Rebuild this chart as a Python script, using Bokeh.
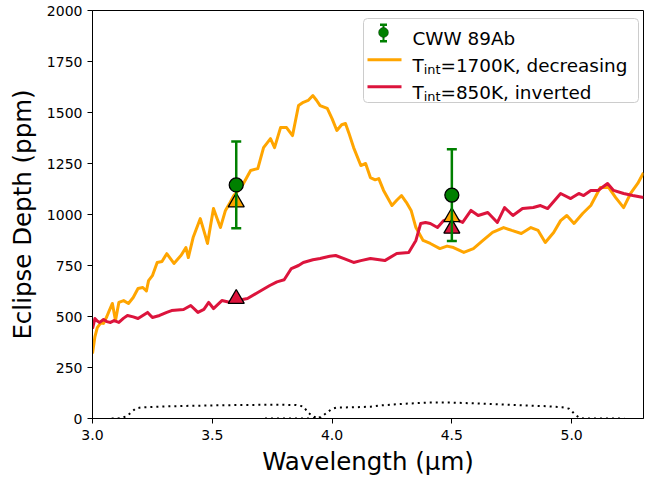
import numpy as np
from bokeh.plotting import figure
from bokeh.models import Range1d, FixedTicker, NumeralTickFormatter, BoxAnnotation, Label
from bokeh.embed import file_html
from bokeh.resources import INLINE

# Model emission spectrum, T_int = 1700 K, decreasing T-P profile
wav_1700 = [3.000, 3.010, 3.020, 3.035, 3.046, 3.060, 3.067, 3.083, 3.096, 3.110,
            3.130, 3.150, 3.170, 3.190, 3.210, 3.225, 3.234, 3.250, 3.270, 3.290,
            3.310, 3.340, 3.370, 3.390, 3.400, 3.420, 3.450, 3.470, 3.480, 3.505,
            3.520, 3.534, 3.555, 3.575, 3.590, 3.610, 3.630, 3.660, 3.690, 3.714,
            3.743, 3.760, 3.785, 3.810, 3.835, 3.860, 3.880, 3.900, 3.920, 3.935,
            3.950, 3.980, 4.000, 4.020, 4.040, 4.056, 4.070, 4.090, 4.120, 4.140,
            4.160, 4.180, 4.195, 4.215, 4.250, 4.270, 4.290, 4.310, 4.330, 4.350,
            4.380, 4.410, 4.450, 4.480, 4.507, 4.550, 4.590, 4.630, 4.670, 4.716,
            4.750, 4.790, 4.830, 4.860, 4.890, 4.925, 4.954, 4.980, 5.010, 5.046,
            5.080, 5.120, 5.155, 5.184, 5.217, 5.246, 5.276, 5.300]
depth_1700 = [318, 400, 446, 470, 466, 500, 520, 564, 480, 569,
              578, 564, 593, 637, 642, 625, 676, 700, 765, 770,
              808, 760, 800, 838, 789, 887, 980, 900, 858, 1029,
              980, 936, 1020, 1060, 1093, 1120, 1152, 1216, 1225, 1328,
              1372, 1328, 1426, 1426, 1387, 1534, 1550, 1559, 1583, 1560,
              1534, 1520, 1470, 1412, 1440, 1446, 1400, 1328, 1240, 1250,
              1181, 1170, 1176, 1118, 1044, 1070, 1093, 1060, 1020, 936,
              873, 858, 833, 845, 838, 814, 833, 873, 912, 936,
              922, 907, 936, 922, 863, 912, 970, 995, 956, 1005,
              1044, 1132, 1132, 1083, 1034, 1103, 1152, 1205]

# Model emission spectrum, T_int = 850 K, inverted T-P profile
wav_850 = [3.000, 3.010, 3.020, 3.030, 3.046, 3.060, 3.075, 3.090, 3.110, 3.130,
           3.146, 3.170, 3.190, 3.210, 3.230, 3.250, 3.280, 3.310, 3.330, 3.380,
           3.410, 3.440, 3.465, 3.485, 3.505, 3.540, 3.576, 3.605, 3.647, 3.690,
           3.740, 3.770, 3.800, 3.830, 3.860, 3.880, 3.920, 3.950, 3.990, 4.015,
           4.050, 4.090, 4.120, 4.160, 4.220, 4.270, 4.320, 4.350, 4.370, 4.390,
           4.410, 4.440, 4.466, 4.500, 4.545, 4.580, 4.610, 4.650, 4.690, 4.720,
           4.755, 4.795, 4.840, 4.870, 4.900, 4.954, 4.996, 5.030, 5.050, 5.080,
           5.110, 5.150, 5.175, 5.217, 5.255, 5.300]
depth_850 = [441, 490, 478, 471, 485, 475, 471, 480, 471, 492,
             505, 498, 490, 505, 520, 495, 505, 520, 529, 534,
             554, 520, 535, 569, 539, 578, 569, 578, 588, 618,
             652, 670, 680, 735, 750, 765, 778, 784, 795, 799,
             784, 765, 774, 784, 774, 809, 814, 873, 956, 961,
             956, 936, 970, 985, 961, 1020, 995, 1010, 961, 1034,
             995, 1029, 1034, 1044, 1029, 1103, 1078, 1103, 1093, 1118,
             1118, 1152, 1118, 1103, 1093, 1083]

# Measured eclipse depths (IRAC 3.6 and 4.5 micron)
obs_wav = [3.6, 4.5]
obs_depth = [1145, 1095]
obs_err = [213, 225]

# Band-integrated model depths
band_1700 = [1060, 988]
band_850 = [587, 931]

# Scaled bandpass response curves
ch1_wav = [3.08, 3.10, 3.12, 3.14, 3.16, 3.18, 3.20, 3.30, 3.40, 3.50,
           3.60, 3.70, 3.80, 3.85, 3.88, 3.90, 3.92, 3.94, 3.96]
ch1_resp = [0, 0, 2, 10, 28, 49, 54, 59, 62, 64,
            66, 67, 67, 66, 59, 29, 10, 2, 0]
ch2_wav = [3.72, 3.80, 3.90, 3.94, 3.96, 3.98, 4.00, 4.02, 4.10, 4.16,
           4.20, 4.30, 4.40, 4.50, 4.60, 4.70, 4.80, 4.90, 4.96, 4.99,
           5.01, 5.03, 5.05, 5.22]
ch2_resp = [0, 0, 0, 2, 12, 30, 48, 54, 55, 58,
            64, 72, 78, 78, 74, 69, 64, 60, 55, 48,
            25, 5, 0, 0]

x_ticks = [3.0, 3.5, 4.0, 4.5, 5.0]
y_ticks = [0, 250, 500, 750, 1000, 1250, 1500, 1750, 2000]

FONT = "DejaVu Sans"

p = figure(width=655, height=478,
           x_range=Range1d(3.0, 5.3), y_range=Range1d(0, 2000),
           output_backend="svg", toolbar_location=None,
           min_border_left=92, min_border_right=12,
           min_border_top=10, min_border_bottom=60)
p.xgrid.visible = False
p.ygrid.visible = False
p.outline_line_color = "black"
p.outline_line_alpha = 1.0
p.outline_line_width = 1
p.background_fill_color = "white"
p.border_fill_color = "white"

p.xaxis.ticker = FixedTicker(ticks=x_ticks)
p.yaxis.ticker = FixedTicker(ticks=y_ticks)
p.xaxis.formatter = NumeralTickFormatter(format="0.0")
p.yaxis.formatter = NumeralTickFormatter(format="0")
p.xaxis.axis_label = "Wavelength (μm)"
p.yaxis.axis_label = "Eclipse Depth (ppm)"
for ax in (p.xaxis, p.yaxis):
    ax.axis_line_color = "black"
    ax.major_tick_line_color = "black"
    ax.major_tick_out = 5
    ax.major_tick_in = 0
    ax.minor_tick_line_color = None
    ax.major_label_text_font = FONT
    ax.major_label_text_font_size = "14px"
    ax.major_label_text_color = "black"
    ax.axis_label_text_font = FONT
    ax.axis_label_text_font_size = "24.5px"
    ax.axis_label_text_font_style = "normal"
    ax.axis_label_text_color = "black"
p.xaxis.major_label_standoff = 6
p.xaxis.axis_label_standoff = 4
p.yaxis.major_label_standoff = 5
p.yaxis.axis_label_standoff = 7

# bandpass curves
p.line(ch1_wav, ch1_resp, line_color="black", line_width=2, line_dash="2 4")
p.line(ch2_wav, ch2_resp, line_color="black", line_width=2, line_dash="2 4")

# model spectra
p.line(wav_1700, depth_1700, line_color="orange", line_width=3, line_join="round")
p.line(wav_850, depth_850, line_color="crimson", line_width=3, line_join="round")

# band-averaged models
p.scatter(obs_wav, band_1700, marker="triangle", size=16,
          fill_color="orange", line_color="black", line_width=1.3)
p.scatter(obs_wav, band_850, marker="triangle", size=16,
          fill_color="crimson", line_color="black", line_width=1.3)

# observations with error bars
obs = np.array(obs_depth, dtype=float)
err = np.array(obs_err, dtype=float)
p.segment(x0=obs_wav, y0=obs - err, x1=obs_wav, y1=obs + err,
          line_color="green", line_width=2.5)
p.scatter(obs_wav, obs + err, marker="dash", size=10, line_color="green", line_width=2.5)
p.scatter(obs_wav, obs - err, marker="dash", size=10, line_color="green", line_width=2.5)
p.scatter(obs_wav, obs_depth, marker="circle", size=14,
          fill_color="green", line_color="black", line_width=1.3)

# ---- legend (built from annotations so the subscript can be set) ----
FL, FB = 92, 418  # frame left / bottom on the canvas


def sx(px):
    return px - FL


def sy(py):
    return FB - py


def box(l, t, r, b, **kw):
    p.add_layout(BoxAnnotation(left=sx(l), right=sx(r), top=sy(t), bottom=sy(b),
                               left_units="screen", right_units="screen",
                               top_units="screen", bottom_units="screen", **kw))


def label(x, y, text, size="18.4px"):
    p.add_layout(Label(x=sx(x), y=sy(y), x_units="screen", y_units="screen",
                       text=text, text_font=FONT, text_font_size=size,
                       text_color="black", text_baseline="alphabetic",
                       text_align="left"))


box(363, 18, 638, 102, fill_color="white", fill_alpha=0.8,
    line_color="#cccccc", line_alpha=1.0, line_width=1, border_radius=4)

# error-bar handle
box(382, 24, 384, 41, fill_color="green", fill_alpha=1, line_color=None)
box(379.5, 23, 386.5, 25.5, fill_color="green", fill_alpha=1, line_color=None)
box(379.5, 39.5, 386.5, 42, fill_color="green", fill_alpha=1, line_color=None)
box(378, 27, 388, 37, fill_color="green", fill_alpha=1,
    line_color="black", line_width=1, border_radius=5)
# line handles
box(367, 57.8, 401, 60.8, fill_color="orange", fill_alpha=1, line_color=None)
box(367, 84.8, 401, 87.8, fill_color="crimson", fill_alpha=1, line_color=None)

label(412, 37.5, "CWW 89Ab")
label(412, 64.5, "T")
label(423.2, 69, "int", size="12.9px")
label(440, 64.5, "=1700K, decreasing")
label(412, 91.5, "T")
label(423.2, 96, "int", size="12.9px")
label(440, 91.5, "=850K, inverted")

open("out.html", "w").write(file_html(p, INLINE))
